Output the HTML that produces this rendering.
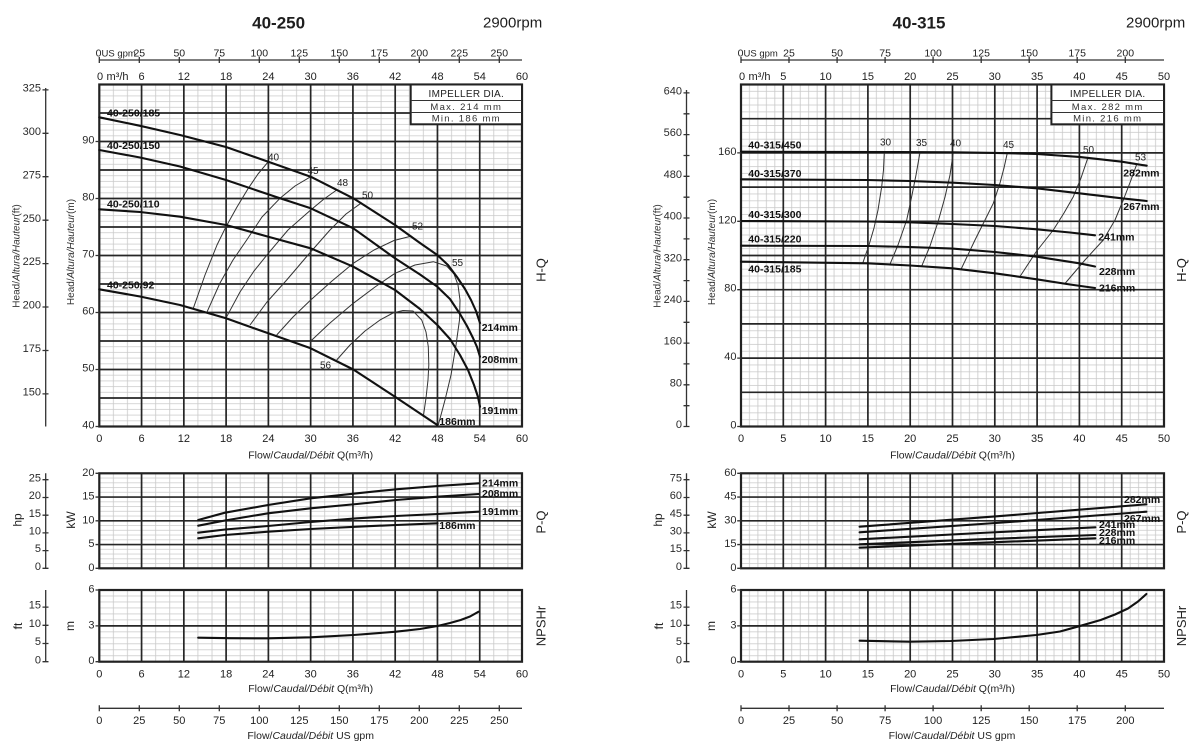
<!DOCTYPE html>
<html><head><meta charset="utf-8">
<style>
html,body{margin:0;padding:0;background:#fff}
svg{display:block}
text{font-family:"Liberation Sans",Arial,sans-serif;fill:#1e1e1e}
.tk{font-size:11px;text-anchor:middle}
.tg{font-size:10.5px;text-anchor:middle}
.tr{font-size:11px;text-anchor:end;fill:#2a2a2a}
.ax{font-size:10px;fill:#333}
.fl{font-size:10.5px;text-anchor:middle;fill:#222}
.cl{font-size:10.5px;font-weight:bold;fill:#111}
.ef{font-size:10px;fill:#222}
.side{font-size:13px;text-anchor:middle;fill:#222}
.rl{font-size:12px;text-anchor:middle;fill:#222}
.c{fill:none;stroke:#111;stroke-width:2.1;stroke-linejoin:round;stroke-linecap:round}
.e{fill:none;stroke:#333;stroke-width:1;stroke-linejoin:round}
.mj{fill:none;stroke:#262626;stroke-width:1.7}
.bd{fill:none;stroke:#222;stroke-width:2.2}
.axl{fill:none;stroke:#333;stroke-width:1.3}
.mn{fill:none;stroke:#c8c8c8;stroke-width:0.8}
</style></head><body>
<svg width="1200" height="755" viewBox="0 0 1200 755" xmlns="http://www.w3.org/2000/svg">
<defs>
<pattern id="pLH" patternUnits="userSpaceOnUse" x="92.255" y="81.65" width="14.09" height="5.7"><path class="mn" d="M7.045 0V5.7M0 2.85H14.09"/></pattern>
<pattern id="pLP" patternUnits="userSpaceOnUse" x="92.255" y="470.925" width="14.09" height="4.75"><path class="mn" d="M7.045 0V4.75M0 2.375H14.09"/></pattern>
<pattern id="pLN" patternUnits="userSpaceOnUse" x="92.255" y="587.0125" width="14.09" height="5.975"><path class="mn" d="M7.045 0V5.975M0 2.9875H14.09"/></pattern>
<pattern id="pRH" patternUnits="userSpaceOnUse" x="736.77" y="81.08" width="8.46" height="6.84"><path class="mn" d="M4.23 0V6.84M0 3.42H8.46"/></pattern>
<pattern id="pRP" patternUnits="userSpaceOnUse" x="736.77" y="470.925" width="8.46" height="4.75"><path class="mn" d="M4.23 0V4.75M0 2.375H8.46"/></pattern>
<pattern id="pRN" patternUnits="userSpaceOnUse" x="736.77" y="587.0125" width="8.46" height="5.975"><path class="mn" d="M4.23 0V5.975M0 2.9875H8.46"/></pattern>
</defs>
<rect width="1200" height="755" fill="#fff"/>

<!-- ================= LEFT CHART 40-250 ================= -->
<text x="278.6" y="28.3" text-anchor="middle" style="font-size:17px;font-weight:bold">40-250</text>
<text x="483" y="27.3" style="font-size:15px">2900rpm</text>

<!-- top gpm axis -->
<path class="axl" d="M99.3 60H522"/>
<path class="axl" d="M99.3 57V63M139.3 57V63M179.3 57V63M219.3 57V63M259.3 57V63M299.3 57V63M339.3 57V63M379.3 57V63M419.3 57V63M459.3 57V63M499.3 57V63"/>
<text x="98.5" y="56.5" class="tg">0</text>
<text x="101.5" y="56.5" style="font-size:9.5px">US gpm</text>
<text x="139.3" y="56.5" class="tg">25</text><text x="179.3" y="56.5" class="tg">50</text><text x="219.3" y="56.5" class="tg">75</text><text x="259.3" y="56.5" class="tg">100</text><text x="299.3" y="56.5" class="tg">125</text><text x="339.3" y="56.5" class="tg">150</text><text x="379.3" y="56.5" class="tg">175</text><text x="419.3" y="56.5" class="tg">200</text><text x="459.3" y="56.5" class="tg">225</text><text x="499.3" y="56.5" class="tg">250</text>
<!-- top m3/h labels -->
<text x="100" y="80" class="tk">0</text>
<text x="106.5" y="80" style="font-size:11px">m³/h</text>
<text x="141.57" y="80" class="tk">6</text><text x="183.84" y="80" class="tk">12</text><text x="226.11" y="80" class="tk">18</text><text x="268.38" y="80" class="tk">24</text><text x="310.65" y="80" class="tk">30</text><text x="352.92" y="80" class="tk">36</text><text x="395.19" y="80" class="tk">42</text><text x="437.46" y="80" class="tk">48</text><text x="479.73" y="80" class="tk">54</text><text x="522" y="80" class="tk">60</text>

<!-- H-Q grid -->
<rect x="99.3" y="84.5" width="422.7" height="342" fill="url(#pLH)"/>
<path class="mj" d="M141.57 84.5V426.5M183.84 84.5V426.5M226.11 84.5V426.5M268.38 84.5V426.5M310.65 84.5V426.5M352.92 84.5V426.5M395.19 84.5V426.5M437.46 84.5V426.5M479.73 84.5V426.5M99.3 113H522M99.3 141.5H522M99.3 170H522M99.3 198.5H522M99.3 227H522M99.3 255.5H522M99.3 284H522M99.3 312.5H522M99.3 341H522M99.3 369.5H522M99.3 398H522"/>
<rect class="bd" x="99.3" y="84.5" width="422.7" height="342"/>
<!-- impeller box -->
<rect x="410.7" y="84.5" width="111.3" height="39.8" fill="#fff" stroke="#222" stroke-width="2"/>
<path d="M410.7 100.5H522M410.7 112.5H522" stroke="#333" stroke-width="1.1"/>
<text x="466.3" y="96.8" text-anchor="middle" style="font-size:10px;letter-spacing:0.3px">IMPELLER DIA.</text>
<text x="466.3" y="110" text-anchor="middle" style="font-size:9.5px;letter-spacing:1.3px;fill:#333">Max. 214 mm</text>
<text x="466.3" y="121.5" text-anchor="middle" style="font-size:9.5px;letter-spacing:1.3px;fill:#333">Min. 186 mm</text>

<!-- efficiency contours -->
<polyline class="e" points="193.3,308.3 205,275 217,245 226,226.7 237,207 248.3,188.3 258,174 268.3,161.7"/>
<polyline class="e" points="206.7,312.7 220,283 233,260 246.7,240 262,217 280,198.3 295,186 310.7,176.7"/>
<polyline class="e" points="226.7,316.7 240,292 254,271 268.3,253.3 288,230 310.7,210 324,199 336.7,190"/>
<polyline class="e" points="250,325 267,302 286.7,280 308,255 330,230 346,214 361.7,202.7"/>
<polyline class="e" points="276.7,335 293,317 310.7,300 332,281 353.3,263.3 374,250 394,240.5 411.7,236"/>
<polyline class="e" points="310,341.7 330,323 353.3,303.3 375,287 395,273.3 415,265 433.3,261.7 446.7,266 454,274 458,285 460,300 459.5,320 456,345 451,375 445,400 438.3,425"/>
<polyline class="e" points="336.7,360 350,345 365,331 380,320 393,313 403,310.5 413,311 421.7,320 426,332 428.3,346.7 428.8,365 428,380 426,398 423.3,416.7"/>
<text x="268" y="160.5" class="ef">40</text>
<text x="307.5" y="174" class="ef">45</text>
<text x="337" y="186" class="ef">48</text>
<text x="362" y="198.5" class="ef">50</text>
<text x="412" y="229.5" class="ef">52</text>
<text x="452" y="266" class="ef">55</text>
<text x="320" y="368.5" class="ef">56</text>

<!-- H-Q curves -->
<polyline class="c" points="99.3,117.3 140,125.8 180,135 226,147 268.3,161.7 310.7,176.7 353.3,198.3 395,225 420,243 437.3,255 448,265 457,277 465,289 471,300 476,311 480,323"/>
<polyline class="c" points="99.3,150 140,157.5 180,166.5 226,180 280,198.3 310.7,208.3 353.3,228.3 395,258.3 420,274.5 437.3,286.7 450,299 460,314 467,326 473,338 477,347 480,356.7"/>
<polyline class="c" points="99.3,209.3 140,212 180,216.7 226,225 268.3,236.7 310.7,248.3 353.3,266.7 395,290 420,309 437.3,325 450,339 460,355 468,370 474,385 478,397 480,406.7"/>
<polyline class="c" points="99.3,289.3 140,296.5 180,305 226,318.3 268.3,333.3 310.7,348.3 353.3,369.5 395,396.7 437.3,425"/>
<text x="107" y="116.7" class="cl">40-250/185</text>
<text x="107" y="149" class="cl">40-250/150</text>
<text x="107" y="207.3" class="cl">40-250/110</text>
<text x="107" y="288.7" class="cl">40-250/92</text>
<text x="481.7" y="331" class="cl">214mm</text>
<text x="481.7" y="363" class="cl">208mm</text>
<text x="481.7" y="414" class="cl">191mm</text>
<text x="439.3" y="425" class="cl">186mm</text>

<!-- left axes H-Q -->
<path class="axl" d="M45.7 88V426.5M42.5 89.9H48.5M42.5 133.3H48.5M42.5 176.7H48.5M42.5 220.2H48.5M42.5 263.6H48.5M42.5 307H48.5M42.5 350.5H48.5M42.5 393.9H48.5"/>
<text x="41" y="91.5" class="tr">325</text><text x="41" y="135" class="tr">300</text><text x="41" y="178.3" class="tr">275</text><text x="41" y="221.8" class="tr">250</text><text x="41" y="265.2" class="tr">225</text><text x="41" y="308.6" class="tr">200</text><text x="41" y="352.1" class="tr">175</text><text x="41" y="395.5" class="tr">150</text>
<path class="axl" d="M95.5 141.5H99.3M95.5 198.5H99.3M95.5 255.5H99.3M95.5 312.5H99.3M95.5 369.5H99.3M95.5 426.5H99.3"/>
<text x="94.5" y="143.5" class="tr">90</text><text x="94.5" y="200.5" class="tr">80</text><text x="94.5" y="257.5" class="tr">70</text><text x="94.5" y="314.5" class="tr">60</text><text x="94.5" y="371.5" class="tr">50</text><text x="94.5" y="428.5" class="tr">40</text>
<text transform="translate(19.5,256) rotate(-90)" text-anchor="middle" class="ax">Head/<tspan font-style="italic">Altura/Hauteur</tspan>(ft)</text>
<text transform="translate(74,252) rotate(-90)" text-anchor="middle" class="ax">Head/<tspan font-style="italic">Altura/Hauteur</tspan>(m)</text>
<text transform="translate(545.5,270) rotate(-90)" class="side">H-Q</text>

<!-- x labels under H-Q -->
<text x="99.3" y="442" class="tk">0</text><text x="141.57" y="442" class="tk">6</text><text x="183.84" y="442" class="tk">12</text><text x="226.11" y="442" class="tk">18</text><text x="268.38" y="442" class="tk">24</text><text x="310.65" y="442" class="tk">30</text><text x="352.92" y="442" class="tk">36</text><text x="395.19" y="442" class="tk">42</text><text x="437.46" y="442" class="tk">48</text><text x="479.73" y="442" class="tk">54</text><text x="522" y="442" class="tk">60</text>
<text x="310.7" y="458.5" class="fl">Flow/<tspan font-style="italic">Caudal/Débit</tspan> Q(m³/h)</text>

<!-- P-Q left -->
<rect x="99.3" y="473.3" width="422.7" height="95" fill="url(#pLP)"/>
<path class="mj" d="M141.57 473.3V568.3M183.84 473.3V568.3M226.11 473.3V568.3M268.38 473.3V568.3M310.65 473.3V568.3M352.92 473.3V568.3M395.19 473.3V568.3M437.46 473.3V568.3M479.73 473.3V568.3M99.3 497.05H522M99.3 520.8H522M99.3 544.55H522"/>
<rect class="bd" x="99.3" y="473.3" width="422.7" height="95"/>
<polyline class="c" points="198.2,520 225,512.7 268,505 310.7,498.3 357,493.3 396,489.3 437.5,486 478.6,483.3"/>
<polyline class="c" points="198.2,525.7 225,520.5 268,513.3 310.7,508.3 357,504 396,500 437.5,496.7 478.6,494"/>
<polyline class="c" points="198.2,532.7 225,529.5 268,526 310.7,522 357,518.3 396,516 437.5,514 478.6,511.7"/>
<polyline class="c" points="198.2,538.3 225,535 268,531.7 310.7,529 357,526.7 396,525 437.5,523.3"/>
<text x="482" y="486.5" class="cl">214mm</text>
<text x="482" y="497" class="cl">208mm</text>
<text x="482" y="515" class="cl">191mm</text>
<text x="439.3" y="529" class="cl">186mm</text>
<path class="axl" d="M45.7 473.3V568.3M42.5 479.7H48.5M42.5 497.5H48.5M42.5 515.2H48.5M42.5 532.9H48.5M42.5 550.6H48.5M42.5 568.3H48.5"/>
<text x="41" y="481.3" class="tr">25</text><text x="41" y="499.1" class="tr">20</text><text x="41" y="516.8" class="tr">15</text><text x="41" y="534.5" class="tr">10</text><text x="41" y="552.2" class="tr">5</text><text x="41" y="569.9" class="tr">0</text>
<path class="axl" d="M95.5 473.3H99.3M95.5 497.05H99.3M95.5 520.8H99.3M95.5 544.55H99.3M95.5 568.3H99.3"/>
<text x="94.5" y="475.8" class="tr">20</text><text x="94.5" y="499.5" class="tr">15</text><text x="94.5" y="523.3" class="tr">10</text><text x="94.5" y="547" class="tr">5</text><text x="94.5" y="570.8" class="tr">0</text>
<text transform="translate(21.5,520) rotate(-90)" class="rl">hp</text>
<text transform="translate(75,520) rotate(-90)" class="rl">kW</text>
<text transform="translate(545.5,522) rotate(-90)" class="side">P-Q</text>

<!-- NPSH left -->
<rect x="99.3" y="590" width="422.7" height="71.7" fill="url(#pLN)"/>
<path class="mj" d="M141.57 590V661.7M183.84 590V661.7M226.11 590V661.7M268.38 590V661.7M310.65 590V661.7M352.92 590V661.7M395.19 590V661.7M437.46 590V661.7M479.73 590V661.7M99.3 625.85H522"/>
<rect class="bd" x="99.3" y="590" width="422.7" height="71.7"/>
<polyline class="c" points="198.2,637.7 230,638.2 268,638.3 310.7,637.3 353.6,635 396,631.7 420,629 437.5,626 450,623 460.7,620 470,616.5 478.6,611.7"/>
<path class="axl" d="M45.7 590V661.7M42.5 607.1H48.5M42.5 625.3H48.5M42.5 643.5H48.5M42.5 661.7H48.5"/>
<text x="41" y="608.7" class="tr">15</text><text x="41" y="626.9" class="tr">10</text><text x="41" y="645.1" class="tr">5</text><text x="41" y="663.3" class="tr">0</text>
<path class="axl" d="M95.5 590H99.3M95.5 625.85H99.3M95.5 661.7H99.3"/>
<text x="94.5" y="592.5" class="tr">6</text><text x="94.5" y="628.3" class="tr">3</text><text x="94.5" y="664.2" class="tr">0</text>
<text transform="translate(22,626) rotate(-90)" class="rl">ft</text>
<text transform="translate(74,626) rotate(-90)" class="rl">m</text>
<text transform="translate(545.5,626) rotate(-90)" class="side">NPSHr</text>
<text x="99.3" y="677.5" class="tk">0</text><text x="141.57" y="677.5" class="tk">6</text><text x="183.84" y="677.5" class="tk">12</text><text x="226.11" y="677.5" class="tk">18</text><text x="268.38" y="677.5" class="tk">24</text><text x="310.65" y="677.5" class="tk">30</text><text x="352.92" y="677.5" class="tk">36</text><text x="395.19" y="677.5" class="tk">42</text><text x="437.46" y="677.5" class="tk">48</text><text x="479.73" y="677.5" class="tk">54</text><text x="522" y="677.5" class="tk">60</text>
<text x="310.7" y="692" class="fl">Flow/<tspan font-style="italic">Caudal/Débit</tspan> Q(m³/h)</text>

<!-- bottom gpm left -->
<path class="axl" d="M99.3 708.3H522"/>
<path class="axl" d="M99.3 705.3V711.3M139.3 705.3V711.3M179.3 705.3V711.3M219.3 705.3V711.3M259.3 705.3V711.3M299.3 705.3V711.3M339.3 705.3V711.3M379.3 705.3V711.3M419.3 705.3V711.3M459.3 705.3V711.3M499.3 705.3V711.3"/>
<text x="99.3" y="724" class="tk">0</text><text x="139.3" y="724" class="tk">25</text><text x="179.3" y="724" class="tk">50</text><text x="219.3" y="724" class="tk">75</text><text x="259.3" y="724" class="tk">100</text><text x="299.3" y="724" class="tk">125</text><text x="339.3" y="724" class="tk">150</text><text x="379.3" y="724" class="tk">175</text><text x="419.3" y="724" class="tk">200</text><text x="459.3" y="724" class="tk">225</text><text x="499.3" y="724" class="tk">250</text>
<text x="310.7" y="739" class="fl">Flow/<tspan font-style="italic">Caudal/Débit</tspan>  US gpm</text>

<!-- ================= RIGHT CHART 40-315 ================= -->
<text x="919" y="28.3" text-anchor="middle" style="font-size:17px;font-weight:bold">40-315</text>
<text x="1126" y="27.3" style="font-size:15px">2900rpm</text>

<path class="axl" d="M741 60H1164"/>
<path class="axl" d="M741 57V63M789 57V63M837.1 57V63M885.1 57V63M933.1 57V63M981.2 57V63M1029.2 57V63M1077.2 57V63M1125.3 57V63"/>
<text x="740.5" y="56.5" class="tg">0</text>
<text x="743.5" y="56.5" style="font-size:9.5px">US gpm</text>
<text x="789" y="56.5" class="tg">25</text><text x="837.1" y="56.5" class="tg">50</text><text x="885.1" y="56.5" class="tg">75</text><text x="933.1" y="56.5" class="tg">100</text><text x="981.2" y="56.5" class="tg">125</text><text x="1029.2" y="56.5" class="tg">150</text><text x="1077.2" y="56.5" class="tg">175</text><text x="1125.3" y="56.5" class="tg">200</text>
<text x="742" y="80" class="tk">0</text>
<text x="748.5" y="80" style="font-size:11px">m³/h</text>
<text x="783.3" y="80" class="tk">5</text><text x="825.6" y="80" class="tk">10</text><text x="867.9" y="80" class="tk">15</text><text x="910.2" y="80" class="tk">20</text><text x="952.5" y="80" class="tk">25</text><text x="994.8" y="80" class="tk">30</text><text x="1037.1" y="80" class="tk">35</text><text x="1079.4" y="80" class="tk">40</text><text x="1121.7" y="80" class="tk">45</text><text x="1164" y="80" class="tk">50</text>

<rect x="741" y="84.5" width="423" height="342" fill="url(#pRH)"/>
<path class="mj" d="M783.3 84.5V426.5M825.6 84.5V426.5M867.9 84.5V426.5M910.2 84.5V426.5M952.5 84.5V426.5M994.8 84.5V426.5M1037.1 84.5V426.5M1079.4 84.5V426.5M1121.7 84.5V426.5M741 118.7H1164M741 152.9H1164M741 187.1H1164M741 221.3H1164M741 255.5H1164M741 289.7H1164M741 323.9H1164M741 358.1H1164M741 392.3H1164"/>
<rect class="bd" x="741" y="84.5" width="423" height="342"/>
<rect x="1051.4" y="84.5" width="112.6" height="39.8" fill="#fff" stroke="#222" stroke-width="2"/>
<path d="M1051.4 100.5H1164M1051.4 112.5H1164" stroke="#333" stroke-width="1.1"/>
<text x="1107.7" y="96.8" text-anchor="middle" style="font-size:10px;letter-spacing:0.3px">IMPELLER DIA.</text>
<text x="1107.7" y="110" text-anchor="middle" style="font-size:9.5px;letter-spacing:1.3px;fill:#333">Max. 282 mm</text>
<text x="1107.7" y="121.5" text-anchor="middle" style="font-size:9.5px;letter-spacing:1.3px;fill:#333">Min. 216 mm</text>

<polyline class="e" points="862.7,263.3 869,245 874,228 878,210 881.7,186.7 883.5,170 884.3,152.3"/>
<polyline class="e" points="890,264.2 898,245 906.7,220 912,195 916,175 920,152.3"/>
<polyline class="e" points="921.7,266.2 930,246 938,222 945,197 950,175 953.3,152.3"/>
<polyline class="e" points="960.7,270 975,240 985,220 993.3,203.3 1000,183 1004,168 1007.3,153"/>
<polyline class="e" points="1020,276.5 1036,252 1053.3,230 1064,213 1073.3,196.7 1081,178 1087.7,158.3"/>
<polyline class="e" points="1065,283.5 1085,260 1103.3,240 1115,220 1123.3,200 1131,180 1136.7,164.3"/>
<text x="880" y="145.5" class="ef">30</text>
<text x="916" y="146" class="ef">35</text>
<text x="950" y="146.5" class="ef">40</text>
<text x="1003" y="148" class="ef">45</text>
<text x="1083" y="153" class="ef">50</text>
<text x="1135" y="160.5" class="ef">53</text>

<polyline class="c" points="741,151.7 820,151.9 900,152.1 953.3,152.3 995,152.9 1036.7,154 1079.3,156.9 1121.7,161.7 1146.7,165.7"/>
<polyline class="c" points="741,179.3 866.7,180 910,181 953.3,182.7 995,185 1036.7,188.3 1079.3,193.3 1121.7,198.3 1146.7,201"/>
<polyline class="c" points="741,221 867.7,221.5 910,222.3 952.3,224 995,226 1036.7,229.3 1070,232.5 1095,235.3"/>
<polyline class="c" points="741,245.7 867.7,246 910,247 952.3,248.6 995,252 1036.7,256.7 1079.3,263.3 1095,266.5"/>
<polyline class="c" points="741,261.7 867.7,263.3 910,265.5 952.3,268.3 995,273.3 1036.7,279.3 1070,284.5 1095,288"/>
<text x="748.3" y="148.7" class="cl">40-315/450</text>
<text x="748.3" y="177" class="cl">40-315/370</text>
<text x="748.3" y="218" class="cl">40-315/300</text>
<text x="748.3" y="242.5" class="cl">40-315/220</text>
<text x="748.3" y="272.5" class="cl">40-315/185</text>
<text x="1123.3" y="176.7" class="cl">282mm</text>
<text x="1123.3" y="210" class="cl">267mm</text>
<text x="1098.3" y="240.5" class="cl">241mm</text>
<text x="1099" y="275" class="cl">228mm</text>
<text x="1099" y="291.5" class="cl">216mm</text>

<path class="axl" d="M686.5 90V426.5M683.5 92.9H689.5M683.5 113.8H689.5M683.5 134.6H689.5M683.5 155.5H689.5M683.5 176.3H689.5M683.5 197.2H689.5M683.5 218H689.5M683.5 238.9H689.5M683.5 259.7H689.5M683.5 280.6H689.5M683.5 301.4H689.5M683.5 322.3H689.5M683.5 343.1H689.5M683.5 363.9H689.5M683.5 384.8H689.5M683.5 405.7H689.5M683.5 426.5H689.5"/>
<text x="682" y="94.5" class="tr">640</text><text x="682" y="136.2" class="tr">560</text><text x="682" y="177.9" class="tr">480</text><text x="682" y="219.6" class="tr">400</text><text x="682" y="261.3" class="tr">320</text><text x="682" y="303" class="tr">240</text><text x="682" y="344.7" class="tr">160</text><text x="682" y="386.4" class="tr">80</text><text x="682" y="428.1" class="tr">0</text>
<path class="axl" d="M737.2 152.9H741M737.2 221.3H741M737.2 289.7H741M737.2 358.1H741M737.2 426.5H741"/>
<text x="736.5" y="155" class="tr">160</text><text x="736.5" y="223.3" class="tr">120</text><text x="736.5" y="291.7" class="tr">80</text><text x="736.5" y="360" class="tr">40</text><text x="736.5" y="428.5" class="tr">0</text>
<text transform="translate(660.5,256) rotate(-90)" text-anchor="middle" class="ax">Head/<tspan font-style="italic">Altura/Hauteur</tspan>(ft)</text>
<text transform="translate(715,252) rotate(-90)" text-anchor="middle" class="ax">Head/<tspan font-style="italic">Altura/Hauteur</tspan>(m)</text>
<text transform="translate(1186,270) rotate(-90)" class="side">H-Q</text>

<text x="741" y="442" class="tk">0</text><text x="783.3" y="442" class="tk">5</text><text x="825.6" y="442" class="tk">10</text><text x="867.9" y="442" class="tk">15</text><text x="910.2" y="442" class="tk">20</text><text x="952.5" y="442" class="tk">25</text><text x="994.8" y="442" class="tk">30</text><text x="1037.1" y="442" class="tk">35</text><text x="1079.4" y="442" class="tk">40</text><text x="1121.7" y="442" class="tk">45</text><text x="1164" y="442" class="tk">50</text>
<text x="952.5" y="458.5" class="fl">Flow/<tspan font-style="italic">Caudal/Débit</tspan> Q(m³/h)</text>

<!-- P-Q right -->
<rect x="741" y="473.3" width="423" height="95" fill="url(#pRP)"/>
<path class="mj" d="M783.3 473.3V568.3M825.6 473.3V568.3M867.9 473.3V568.3M910.2 473.3V568.3M952.5 473.3V568.3M994.8 473.3V568.3M1037.1 473.3V568.3M1079.4 473.3V568.3M1121.7 473.3V568.3M741 497.05H1164M741 520.8H1164M741 544.55H1164"/>
<rect class="bd" x="741" y="473.3" width="423" height="95"/>
<polyline class="c" points="859.6,526.7 1003,515.8 1146.4,504.3"/>
<polyline class="c" points="859.6,532.3 1003,522.5 1146.4,511.7"/>
<polyline class="c" points="859.6,539.3 980,533 1095.4,527.3"/>
<polyline class="c" points="859.6,544.3 980,539.3 1095.4,535"/>
<polyline class="c" points="859.6,547.7 980,542.8 1095.4,538.3"/>
<text x="1124" y="503" class="cl">282mm</text>
<text x="1124" y="522" class="cl">267mm</text>
<text x="1099" y="528" class="cl">241mm</text>
<text x="1099" y="536" class="cl">228mm</text>
<text x="1099" y="544" class="cl">216mm</text>
<path class="axl" d="M686.5 473.3V568.3M683.5 479.7H689.5M683.5 497.5H689.5M683.5 515.2H689.5M683.5 532.9H689.5M683.5 550.6H689.5M683.5 568.3H689.5"/>
<text x="682" y="481.3" class="tr">75</text><text x="682" y="499.1" class="tr">60</text><text x="682" y="516.8" class="tr">45</text><text x="682" y="534.5" class="tr">30</text><text x="682" y="552.2" class="tr">15</text><text x="682" y="569.9" class="tr">0</text>
<path class="axl" d="M737.2 473.3H741M737.2 497.05H741M737.2 520.8H741M737.2 544.55H741M737.2 568.3H741"/>
<text x="736.5" y="475.8" class="tr">60</text><text x="736.5" y="499.5" class="tr">45</text><text x="736.5" y="523.3" class="tr">30</text><text x="736.5" y="547" class="tr">15</text><text x="736.5" y="570.8" class="tr">0</text>
<text transform="translate(662,520) rotate(-90)" class="rl">hp</text>
<text transform="translate(716,520) rotate(-90)" class="rl">kW</text>
<text transform="translate(1186,522) rotate(-90)" class="side">P-Q</text>

<!-- NPSH right -->
<rect x="741" y="590" width="423" height="71.7" fill="url(#pRN)"/>
<path class="mj" d="M783.3 590V661.7M825.6 590V661.7M867.9 590V661.7M910.2 590V661.7M952.5 590V661.7M994.8 590V661.7M1037.1 590V661.7M1079.4 590V661.7M1121.7 590V661.7M741 625.85H1164"/>
<rect class="bd" x="741" y="590" width="423" height="71.7"/>
<polyline class="c" points="859.6,640.7 909.6,641.7 950.7,641 993.6,639 1036.4,635 1060,631.5 1077.5,626.7 1100.7,620 1115,614.5 1128,608.5 1138,601.5 1146.4,594"/>
<path class="axl" d="M686.5 590V661.7M683.5 607.1H689.5M683.5 625.3H689.5M683.5 643.5H689.5M683.5 661.7H689.5"/>
<text x="682" y="608.7" class="tr">15</text><text x="682" y="626.9" class="tr">10</text><text x="682" y="645.1" class="tr">5</text><text x="682" y="663.3" class="tr">0</text>
<path class="axl" d="M737.2 590H741M737.2 625.85H741M737.2 661.7H741"/>
<text x="736.5" y="592.5" class="tr">6</text><text x="736.5" y="628.3" class="tr">3</text><text x="736.5" y="664.2" class="tr">0</text>
<text transform="translate(663,626) rotate(-90)" class="rl">ft</text>
<text transform="translate(715,626) rotate(-90)" class="rl">m</text>
<text transform="translate(1186,626) rotate(-90)" class="side">NPSHr</text>
<text x="741" y="677.5" class="tk">0</text><text x="783.3" y="677.5" class="tk">5</text><text x="825.6" y="677.5" class="tk">10</text><text x="867.9" y="677.5" class="tk">15</text><text x="910.2" y="677.5" class="tk">20</text><text x="952.5" y="677.5" class="tk">25</text><text x="994.8" y="677.5" class="tk">30</text><text x="1037.1" y="677.5" class="tk">35</text><text x="1079.4" y="677.5" class="tk">40</text><text x="1121.7" y="677.5" class="tk">45</text><text x="1164" y="677.5" class="tk">50</text>
<text x="952.5" y="692" class="fl">Flow/<tspan font-style="italic">Caudal/Débit</tspan> Q(m³/h)</text>

<path class="axl" d="M741 708.3H1164"/>
<path class="axl" d="M741 705.3V711.3M789 705.3V711.3M837.1 705.3V711.3M885.1 705.3V711.3M933.1 705.3V711.3M981.2 705.3V711.3M1029.2 705.3V711.3M1077.2 705.3V711.3M1125.3 705.3V711.3"/>
<text x="741" y="724" class="tk">0</text><text x="789" y="724" class="tk">25</text><text x="837.1" y="724" class="tk">50</text><text x="885.1" y="724" class="tk">75</text><text x="933.1" y="724" class="tk">100</text><text x="981.2" y="724" class="tk">125</text><text x="1029.2" y="724" class="tk">150</text><text x="1077.2" y="724" class="tk">175</text><text x="1125.3" y="724" class="tk">200</text>
<text x="952" y="739" class="fl">Flow/<tspan font-style="italic">Caudal/Débit</tspan>  US gpm</text>
</svg>
</body></html>
